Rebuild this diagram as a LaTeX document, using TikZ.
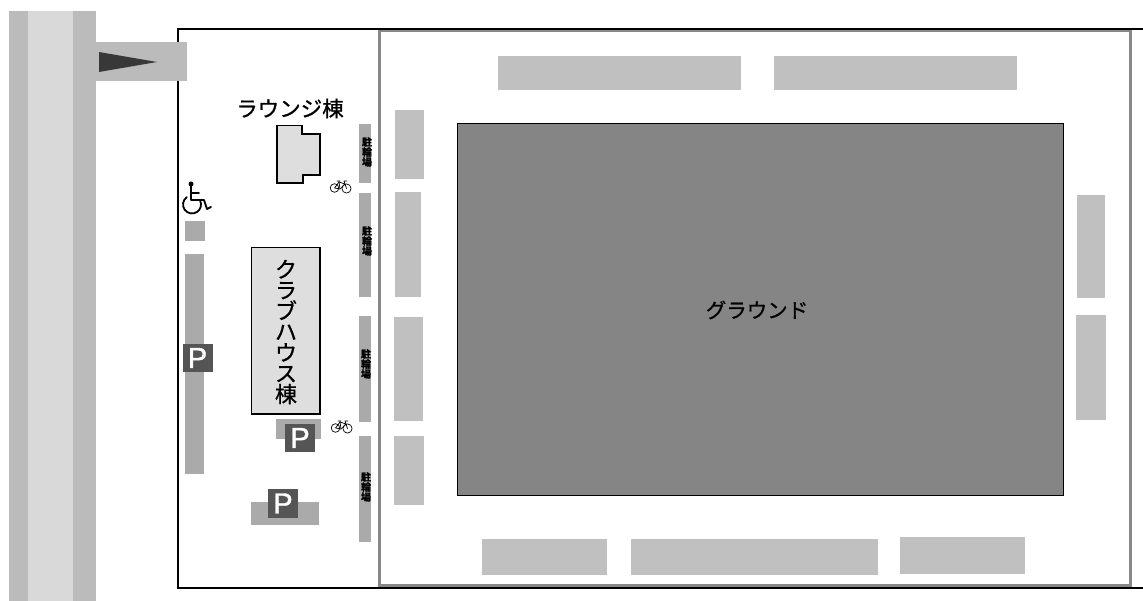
\documentclass[tikz,border=0pt]{standalone}
\usepackage{fontspec}
\setmainfont{Noto Sans CJK JP}
\newfontfamily\jpmed[FakeBold=0.9]{Noto Sans CJK JP}
\newfontfamily\jpheavy[FakeBold=1.5]{Noto Sans CJK JP Bold}
\newfontfamily\psign{Liberation Sans}[FakeBold=1.3]
\definecolor{roadout}{HTML}{BBBBBB}
\definecolor{roadin}{HTML}{D9D9D9}
\definecolor{block}{HTML}{C0C0C0}
\definecolor{strip}{HTML}{AAAAAA}
\definecolor{frame}{HTML}{888888}
\definecolor{ground}{HTML}{858585}
\definecolor{bldg}{HTML}{DEDEDE}
\definecolor{signbg}{HTML}{555555}
\tikzset{
  seat/.style={fill=block},
  stripe/.style={fill=strip},
  building/.style={draw=black,line width=1.4pt,fill=bldg},
  label/.style={inner sep=0pt,text=black,font=\jpmed\fontsize{21.5}{21.5}\selectfont},
  bikelabel/.style={inner sep=0pt,text=black,align=center,font=\jpheavy\fontsize{10}{10}\selectfont},
  psignbox/.style={fill=signbg,text=white,inner sep=0pt,minimum width=30pt,minimum height=28.5pt,font=\psign\fontsize{29}{29}\selectfont},
  icon/.style={draw=black,line width=.7pt,line cap=round,line join=round},
  wheel/.style={draw=black,line width=1.8pt,line cap=round,line join=round}
}
\newcommand{\bikeicon}[2]{%
  \begin{scope}[shift={(#1,#2)}]
    \draw[icon] (-6.5,2) circle (4.3);
    \draw[icon] (5.5,2.5) circle (4.6);
    \draw[icon] (-6.5,2) -- (-2,-4) -- (4,-2) -- (-1,3) -- (-6.5,2);
    \draw[icon] (-2,-4) -- (-1,3) (4,-2) -- (5.5,2.5) (4,-2) -- (3,-5) -- (6,-5) (-4,-5) -- (-1,-5);
  \end{scope}}
\begin{document}
\begin{tikzpicture}[x=1pt,y=-1pt]
\useasboundingbox (0,0) rectangle (1143,601);
\fill[white] (0,0) rectangle (1143,601);
% road
\fill[roadout] (9,11) rectangle (96,601);
\fill[roadin] (28,11) rectangle (73,601);
% ground frame
\draw[frame,line width=3.8pt] (379.5,30) rectangle (1130.5,585.5);
% outer border
\draw[black,line width=1.9pt] (1143,28.9) -- (177.7,28.9) -- (177.7,588) -- (1143,588);
% entrance
\fill[roadout] (96,42) rectangle (187,81);
\fill[black!78] (99,52) -- (157,62) -- (99,72) -- cycle;
% top and bottom blocks
\fill[seat] (498,56) rectangle (741,90);
\fill[seat] (774,56) rectangle (1017,90);
\fill[seat] (482,539) rectangle (607,575);
\fill[seat] (631,539) rectangle (878,575);
\fill[seat] (900,537) rectangle (1025,574);
% left blocks
\fill[seat] (395,110) rectangle (424,179);
\fill[seat] (395,192) rectangle (421,297);
\fill[seat] (394,317) rectangle (423,421);
\fill[seat] (394,436) rectangle (424,505);
% right blocks
\fill[seat] (1077,195) rectangle (1105,298);
\fill[seat] (1076,315) rectangle (1106,420);
% ground
\draw[black,line width=.6pt,fill=ground] (457,123) rectangle (1063,495);
\node[label,font=\jpmed\fontsize{20.5}{20.5}\selectfont] (groundlabel) at (757,310) {グラウンド};
% bicycle strips
\fill[stripe] (359,124) rectangle (371,183);
\fill[stripe] (359,193) rectangle (371,297);
\fill[stripe] (359,316) rectangle (371,422);
\fill[stripe] (359,436) rectangle (371,542);
\node[bikelabel] (bike1) at (367,152) {駐\\輪\\場};
\node[bikelabel] (bike2) at (367,241) {駐\\輪\\場};
\node[bikelabel] (bike3) at (366,364) {駐\\輪\\場};
\node[bikelabel] (bike4) at (366,487) {駐\\輪\\場};
% lounge
\draw[building] (277,125.5) -- (302,125.5) -- (302,134) -- (320,134) -- (320,175) -- (303,175) -- (303,183) -- (277,183) -- cycle;
\node[label] (lounge) at (290,108.5) {ラウンジ棟};
% clubhouse
\draw[building] (251.5,247.5) rectangle (320,414);
\node[label,align=center,font=\jpmed\fontsize{22}{20.8}\selectfont] (club) at (286,332) {ク\\ラ\\ブ\\ハ\\ウ\\ス\\棟};
% parking
\fill[stripe] (185,221) rectangle (205,241);
\fill[stripe] (185,254) rectangle (204,474);
\fill[stripe] (276,419) rectangle (321,439);
\fill[stripe] (251,502) rectangle (319,525);
\node[psignbox] (p1) at (197.5,358) {P};
\node[psignbox] (p2) at (300,438) {P};
\node[psignbox] (p3) at (283,503.5) {P};
% bicycles
\bikeicon{341}{186}
\bikeicon{342}{426}
% wheelchair
\fill[black] (191,184) circle (2.5);
\draw[wheel] (191,184) -- (191,200) -- (204,200) -- (207,209) -- (211,207);
\draw[wheel] (191,193) -- (199,193);
\draw[wheel] (192,204.5) ++(235:9) arc[start angle=235,end angle=-25,radius=9];
\end{tikzpicture}
\end{document}
